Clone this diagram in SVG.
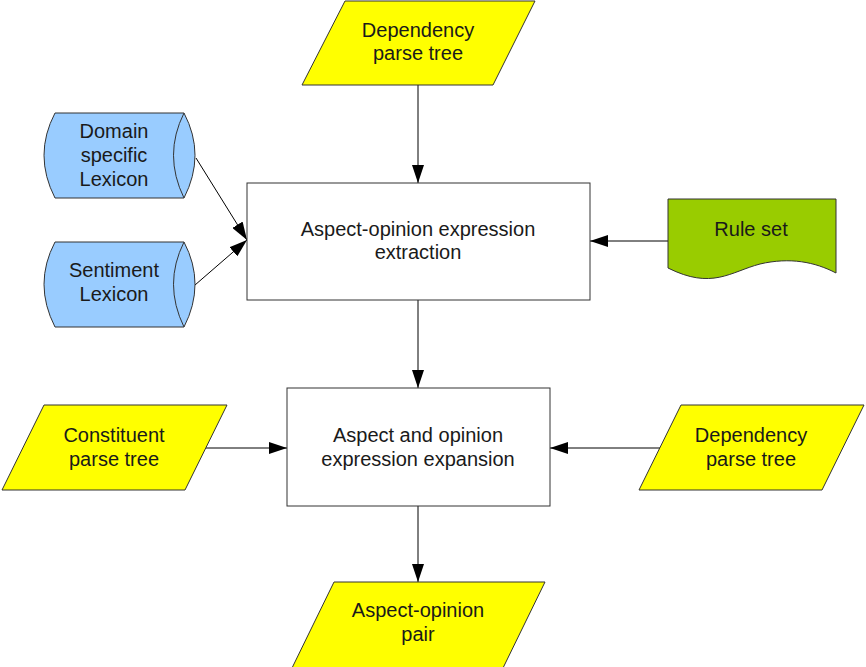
<svg xmlns="http://www.w3.org/2000/svg" width="866" height="667" viewBox="0 0 866 667">
<defs>
<style>
.t{font-family:"Liberation Sans",Arial,sans-serif;font-size:20px;fill:#1a1a1a;text-anchor:middle}
.io{fill:#ffff00;stroke:#333;stroke-width:1}
.db{fill:#99ccff;stroke:#333;stroke-width:1}
.box{fill:#fff;stroke:#333;stroke-width:1}
.doc{fill:#99cc00;stroke:#333;stroke-width:1}
.c{stroke:#000;stroke-width:1;fill:none;marker-end:url(#ah)}
</style>
<marker id="ah" markerUnits="userSpaceOnUse" markerWidth="18" markerHeight="12" viewBox="0 0 18 12" refX="18" refY="6" orient="auto">
<path d="M0,0 L18,6 L0,12 Z" fill="#000"/>
</marker>
</defs>
<rect width="866" height="667" fill="#fff"/>
<g id="connectors">
<line class="c" x1="418" y1="85" x2="418" y2="183"/>
<line class="c" x1="196" y1="158" x2="247" y2="240"/>
<line class="c" x1="195" y1="285" x2="247" y2="240"/>
<line class="c" x1="668" y1="241" x2="590" y2="241"/>
<line class="c" x1="418" y1="300" x2="418" y2="388"/>
<line class="c" x1="206" y1="448" x2="287" y2="448"/>
<line class="c" x1="660" y1="448" x2="550" y2="448"/>
<line class="c" x1="418" y1="506" x2="418" y2="582"/>
</g>
<g id="dep-top">
<polygon class="io" points="345,1 535,1 493,85 302,85"/>
<text class="t" x="418" y="37">Dependency</text>
<text class="t" x="418" y="60">parse tree</text>
</g>
<g id="domain-lexicon">
<path class="db" d="M55,113 L184,113 Q206,155 184,198 L55,198 Q33,155 55,113 Z"/>
<path class="db" d="M184,113 Q163,155 184,198" fill="none"/>
<text class="t" x="114" y="138">Domain</text>
<text class="t" x="114" y="162">specific</text>
<text class="t" x="114" y="186">Lexicon</text>
</g>
<g id="sentiment-lexicon">
<path class="db" d="M55,242 L184,242 Q206,284 184,327 L55,327 Q33,284 55,242 Z"/>
<path class="db" d="M184,242 Q163,284 184,327" fill="none"/>
<text class="t" x="114" y="277">Sentiment</text>
<text class="t" x="114" y="301">Lexicon</text>
</g>
<g id="extraction">
<rect class="box" x="247" y="183" width="343" height="117"/>
<text class="t" x="418" y="236">Aspect-opinion expression</text>
<text class="t" x="418" y="259">extraction</text>
</g>
<g id="rule-set">
<path class="doc" d="M668,199 L836,199 L836,273 C815,262 790,257 760,264 C730,272 712,290 668,268 Z"/>
<text class="t" x="751" y="236">Rule set</text>
</g>
<g id="expansion">
<rect class="box" x="287" y="388" width="263" height="118"/>
<text class="t" x="418" y="442">Aspect and opinion</text>
<text class="t" x="418" y="466">expression expansion</text>
</g>
<g id="constituent">
<polygon class="io" points="44,405 227,405 185,490 2,490"/>
<text class="t" x="114" y="442">Constituent</text>
<text class="t" x="114" y="466">parse tree</text>
</g>
<g id="dep-right">
<polygon class="io" points="681,405 864,405 822,490 639,490"/>
<text class="t" x="751" y="442">Dependency</text>
<text class="t" x="751" y="466">parse tree</text>
</g>
<g id="pair">
<polygon class="io" points="334,582 545,582 503,668 292,668"/>
<text class="t" x="418" y="617">Aspect-opinion</text>
<text class="t" x="418" y="641">pair</text>
</g>
</svg>
